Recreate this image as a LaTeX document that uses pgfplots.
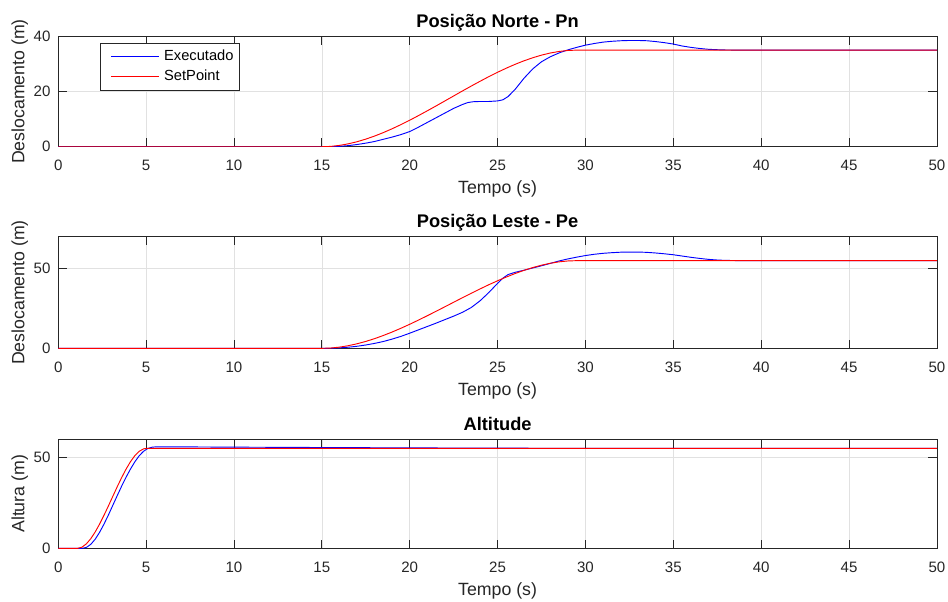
\documentclass[border=0pt]{standalone}
\usepackage{pgfplots}
\pgfplotsset{compat=1.18}
\usepackage{fontspec}
\setmainfont{Liberation Sans}
\definecolor{axc}{RGB}{38,38,38}
\definecolor{gridc}{RGB}{225,225,225}
\pgfplotsset{
 myax/.style={
  scale only axis, width=659pt,
  xmin=0, xmax=50, xtick={0,5,...,50},
  grid=major, major grid style={draw=gridc, line width=0.5pt},
  axis line style={draw=axc, line width=0.6pt},
  tick style={draw=axc, line width=0.6pt},
  major tick length=6.5pt, tick align=inside, xtick pos=both, ytick pos=both,
  /pgf/number format/assume math mode=true,
  ticklabel style={font=\fontsize{11.3}{13}\selectfont, text=axc},
  xticklabel style={anchor=base, yshift=-18pt, inner sep=0pt},
  yticklabel style={anchor=east, xshift=-5.7pt, inner sep=0pt},
  xlabel={Tempo (s)},
  every axis x label/.style={at={(axis description cs:0.5,0)}, anchor=base, yshift=-35pt, inner sep=0pt, font=\fontsize{13.3}{15}\selectfont, text=axc},
  every axis y label/.style={at={(axis description cs:-0.0385,0.5)}, rotate=90, anchor=base, inner sep=0pt, font=\fontsize{13.3}{15}\selectfont, text=axc},
  every axis title/.style={at={(axis description cs:0.5,1)}, anchor=base, yshift=6.75pt, inner sep=0pt, font=\bfseries\fontsize{13.7}{15}\selectfont, text=black},
  every axis plot/.append style={line width=0.7pt},
 }
}
\begin{document}
\begin{tikzpicture}
\useasboundingbox (0,0) rectangle (711pt,450.75pt);
% ---------- Top ----------
\begin{axis}[myax, at={(43.7pt,340.7pt)}, anchor=south west, height=82.8pt,
  ymin=0, ymax=40, ytick={0,20,40},
  title={Posição Norte - Pn}, ylabel={Deslocamento (m)},
  legend style={at={(axis description cs:0.0478,0.943)}, anchor=north west, draw=axc, line width=0.5pt,
    inner xsep=0.5pt, inner ysep=2.6pt, row sep=0pt,
    nodes={font=\fontsize{11}{12}\selectfont, inner xsep=3.5pt, inner ysep=2.75pt, text height=7.5pt, text depth=2pt}},
  legend cell align=left,
  legend image code/.code={\path (0pt,0pt); \draw[#1] (7pt,0pt) -- (43pt,0pt);},
]
\addplot[blue] coordinates {
(0,0) (15,0) (15.5,0.02) (16,0.15) (16.5,0.4) (17,0.8) (17.5,1.3) (18,1.9) (18.5,2.7) (19,3.5) (19.5,4.4) (20,5.5)
(20.5,7.1) (21,8.8) (21.5,10.5) (22,12.2) (22.5,13.9) (23,15.3) (23.3,16.0) (23.6,16.3) (24,16.4) (24.5,16.4)
(25,16.6) (25.3,17.0) (25.6,18.2) (26,20.8) (26.5,24.8) (27,28.2) (27.5,30.8) (28,32.6) (28.5,34.0) (29,35.1)
(29.5,36.0) (30,36.8) (30.5,37.4) (31,37.9) (31.5,38.2) (32,38.4) (32.5,38.5) (33,38.5) (33.5,38.4) (34,38.1)
(34.5,37.7) (35,37.2) (35.5,36.5) (36,36.0) (36.5,35.6) (37,35.3) (37.5,35.15) (38,35.05) (39,35.0) (50,35.0)
};
\addlegendentry{Executado}
\addplot[red] coordinates {
(0,0) (15,0) (15.5,0.12) (16,0.48) (16.5,1.05) (17,1.81) (17.5,2.76) (18,3.87) (18.5,5.13) (19,6.52) (19.5,8.02)
(20,9.61) (20.5,11.29) (21,13.02) (21.5,14.79) (22,16.59) (22.5,18.40) (23,20.21) (23.5,21.98) (24,23.71)
(24.5,25.39) (25,26.98) (25.5,28.48) (26,29.87) (26.5,31.13) (27,32.24) (27.5,33.19) (28,33.96) (28.5,34.52)
(29,34.88) (29.5,35) (50,35)
};
\addlegendentry{SetPoint}
\end{axis}
% ---------- Middle ----------
\begin{axis}[myax, at={(43.7pt,189.5pt)}, anchor=south west, height=83.7pt,
  ymin=0, ymax=70, ytick={0,50},
  title={Posição Leste - Pe}, ylabel={Deslocamento (m)}]
\addplot[blue] coordinates {
(0,0) (15,0) (15.5,0.05) (16,0.3) (16.5,0.7) (17,1.3) (17.5,2.1) (18,3.1) (18.5,4.3) (19,5.8) (19.5,7.5) (20,9.5)
(20.5,11.6) (21,13.7) (21.5,15.8) (22,18.0) (22.5,20.2) (23,22.6) (23.5,25.6) (24,29.8) (24.5,35.0) (25,40.8)
(25.3,44.0) (25.6,46.3) (26,47.7) (26.5,49.0) (27,50.4) (27.5,51.8) (28,53.3) (28.5,54.8) (29,56.1) (29.5,57.2)
(30,58.2) (30.5,59.0) (31,59.6) (31.5,60.0) (32,60.3) (32.5,60.4) (33,60.4) (33.5,60.2) (34,59.8) (34.5,59.3)
(35,58.7) (35.5,57.9) (36,57.1) (36.5,56.4) (37,55.8) (37.5,55.4) (38,55.15) (39,55.0) (50,55.0)
};
\addplot[red] coordinates {
(0,0) (15,0) (15.5,0.19) (16,0.75) (16.5,1.65) (17,2.85) (17.5,4.34) (18,6.08) (18.5,8.06) (19,10.25) (19.5,12.60)
(20,15.10) (20.5,17.74) (21,20.46) (21.5,23.24) (22,26.07) (22.5,28.91) (23,31.76) (23.5,34.54) (24,37.26)
(24.5,39.90) (25,42.40) (25.5,44.75) (26,46.94) (26.5,48.92) (27,50.66) (27.5,52.16) (28,53.37) (28.5,54.25)
(29,54.81) (29.5,55) (50,55)
};
\end{axis}
% ---------- Bottom ----------
\begin{axis}[myax, at={(43.7pt,39.5pt)}, anchor=south west, height=81.75pt,
  ymin=0, ymax=60, ytick={0,50},
  title={Altitude}, ylabel={Altura (m)}]
\addplot[blue] coordinates {
(0,0) (1.35,0) (1.6,0.5) (1.85,2.2) (2.1,5.0) (2.35,8.8) (2.6,13.3) (2.85,18.3) (3.1,23.6) (3.35,28.9) (3.6,34.1)
(3.85,39.0) (4.1,43.5) (4.35,47.5) (4.6,50.9) (4.85,53.4) (5.1,55.0) (5.35,55.7) (5.6,55.9) (6,55.9) (8,55.8)
(10,55.7) (15,55.5) (20,55.3) (25,55.15) (30,55.05) (40,55.0) (50,55.0)
};
\addplot[red] coordinates {
(0,0) (1.1,0) (1.35,0.65) (1.6,2.48) (1.85,5.32) (2.1,8.99) (2.35,13.33) (2.6,18.15) (2.85,23.28) (3.1,28.56)
(3.35,33.80) (3.6,38.82) (3.85,43.47) (4.1,47.56) (4.35,50.93) (4.6,53.38) (4.85,54.76) (5.0,55) (50,55)
};
\end{axis}
\end{tikzpicture}
\end{document}
